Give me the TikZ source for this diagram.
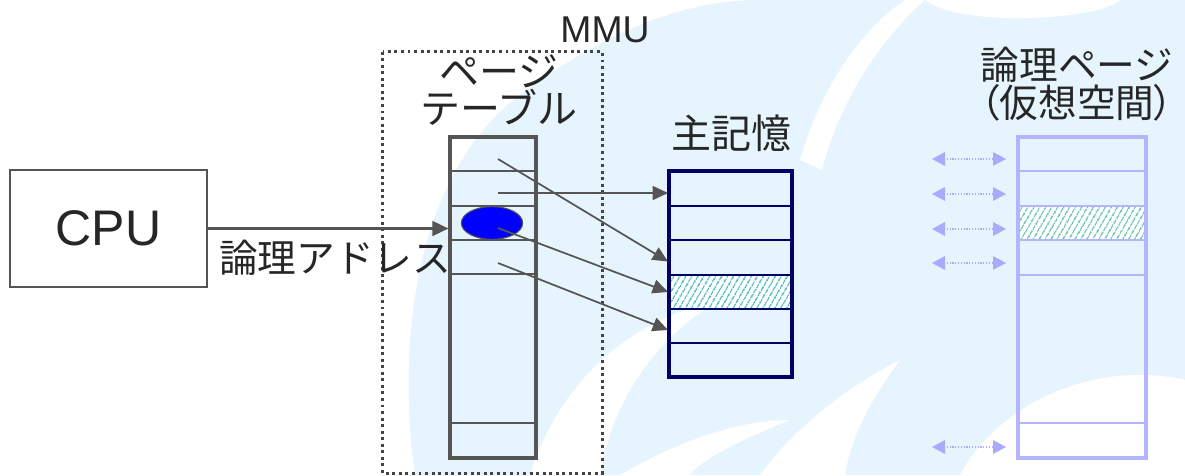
\documentclass[tikz,border=0pt]{standalone}
\usepackage{fontspec}
\setmainfont{Liberation Sans}
\newfontfamily\jp{Noto Sans CJK JP}
\newfontfamily\jpp[RawFeature=+palt]{Noto Sans CJK JP}
\usetikzlibrary{arrows.meta,fit,shapes.geometric,patterns.meta}
\definecolor{txt}{HTML}{262626}
\definecolor{gr}{HTML}{555555}
\definecolor{dotc}{HTML}{444444}
\definecolor{navyb}{HTML}{000066}
\definecolor{lav}{HTML}{B4B4FF}
\definecolor{lavt}{HTML}{AAAAFF}
\definecolor{bgb}{HTML}{E6F5FD}
\definecolor{hatchA}{HTML}{3DB8B8}
\definecolor{hatchB}{HTML}{5CBFA8}
\definecolor{ellblue}{HTML}{0000FF}
\begin{document}
\begin{tikzpicture}[x=0.75pt,y=-0.75pt,
  ptcell/.style={draw=gr, line width=1.6pt, inner sep=0pt},
  ptouter/.style={draw=gr, line width=2.3pt, inner sep=0pt},
  mcell/.style={draw=navyb, line width=1.5pt, inner sep=0pt},
  mouter/.style={draw=navyb, line width=2.4pt, inner sep=0pt},
  lcell/.style={draw=lav, line width=1.5pt, inner sep=0pt},
  louter/.style={draw=lav, line width=2.6pt, inner sep=0pt},
  arr/.style={draw=gr, line width=1.3pt, -{Triangle[length=11.5pt,width=10.5pt]}},
  dotline/.style={draw=lavt, line width=1.1pt, dash pattern=on 0.9pt off 1.2pt},
  jlabel/.style={font=\jp\fontsize{30}{25}\selectfont, text=txt, align=center, inner sep=0pt},
  elabel/.style={font=\fontsize{28}{30}\selectfont, text=txt, inner sep=0pt}
]
\useasboundingbox (0,0) rectangle (1185,475);
\fill[white] (0,0) rectangle (1185,475);
% background watermark (approximate)
\fill[bgb] (415,475) .. controls (395,330) and (420,170) .. (520,95)
   .. controls (600,35) and (680,0) .. (760,0) -- (1185,0) -- (1185,475) -- cycle;
\fill[white] (530,475) .. controls (560,380) and (630,320) .. (720,300)
   .. controls (650,340) and (610,410) .. (600,475) -- cycle;
\fill[white] (800,160) .. controls (820,90) and (860,30) .. (905,0)
   -- (925,0) .. controls (880,40) and (840,100) .. (822,170) -- cycle;
\fill[white] (925,0) -- (1120,0) .. controls (1100,20) and (960,28) .. (925,0) -- cycle;
\fill[white] (760,475) .. controls (800,420) and (860,380) .. (900,360)
   .. controls (870,400) and (850,440) .. (845,475) -- cycle;
\fill[white] (960,475) .. controls (1000,400) and (1100,360) .. (1185,380)
   -- (1185,475) -- cycle;
\fill[white] (620,475) .. controls (680,440) and (740,420) .. (790,420)
   .. controls (740,440) and (700,460) .. (690,475) -- cycle;

% MMU dotted box
\node[inner sep=0pt, fit={(383,52) (602,473)}] (mmu) {};
\draw[draw=dotc, line width=2.4pt, dash pattern=on 2.2pt off 2.7pt]
  (mmu.north west) rectangle (mmu.south east);
\node[elabel] (mmul) at (605,30) {MMU};

% CPU
\node[draw=gr, line width=1.9pt, inner sep=0pt, fit={(10,170) (207,287)}] (cpubox) {};
\node[font=\fontsize{37.5}{40}\selectfont, text=txt, inner sep=0pt] (cpu) at (cpubox.center) {CPU};

% page table
\node[jlabel] (ptl) at (499,90) {ページ\\テーブル};
\foreach \i/\a/\b in {1/137/171,2/171/206,3/206/240,4/240/274,5/274/423,6/423/458}
  \node[ptcell, fit={(450,\a) (536,\b)}] (p\i) {};
\node[ptouter, fit={(450,137) (536,458)}] (pt) {};

% CPU -> page table
\draw[draw=gr, line width=1.9pt, -{Triangle[length=12pt,width=11pt]}]
  (cpubox.east) -- (cpubox.east -| pt.west);
\node[font=\jp\fontsize{29}{25}\selectfont, text=txt, inner sep=0pt, anchor=west] (la) at (219,258) {論理アドレス};

% ellipse
\node[ellipse, draw=gr, line width=0.8pt, fill=ellblue, minimum width=46pt,
      minimum height=24.5pt, inner sep=0pt] (ell) at (492,223) {};

% main memory
\node[jlabel] (mml) at (731,133) {主記憶};
\fill[white] (669,275) rectangle (792,309);
\fill[pattern={Lines[angle=60,distance=4pt,line width=1.1pt]}, pattern color=hatchA]
  (669,275) rectangle (792,309);
\foreach \i/\a/\b in {1/171/206,2/206/240,3/240/275,4/275/309,5/309/343,6/343/377}
  \node[mcell, fit={(669,\a) (792,\b)}] (m\i) {};
\node[mouter, fit={(669,171) (792,377)}] (mem) {};

% mapping arrows
\coordinate (s1) at (498,159);
\coordinate (s2) at (498,193);
\coordinate (s3) at (498,228);
\coordinate (s4) at (498,263);
\draw[arr] (s1) -- ([yshift=-3pt]m3.west);
\draw[arr] (s2) -- (s2 -| m1.west);
\draw[arr] (s3) -- (m4.west);
\draw[arr] (s4) -- ([yshift=-3pt]m5.west);

% logical pages
\node[font=\jp\fontsize{29}{26}\selectfont, text=txt, align=center, inner sep=0pt]
  (lpl) at (1077,84) {論理ページ\\{\jpp （仮想空間）}};
\fill[white] (1018,206) rectangle (1146,240);
\fill[pattern={Lines[angle=60,distance=4pt,line width=1.1pt]}, pattern color=hatchB]
  (1018,206) rectangle (1146,240);
\foreach \i/\a/\b in {1/137/171,2/171/206,3/206/240,4/240/275,5/275/423,6/423/458}
  \node[lcell, fit={(1018,\a) (1146,\b)}] (l\i) {};
\node[louter, fit={(1018,137) (1146,458)}] (lp) {};

% double arrows
\foreach \i/\y in {1/159,2/194,3/229,4/263,5/447}{
  \coordinate (dl\i) at (932,\y);
  \coordinate (dr\i) at (1006,\y);
  \draw[dotline] ([xshift=9pt]dl\i) -- ([xshift=-9pt]dr\i);
  \fill[lavt] (dr\i) -- ++(-13,-7) -- ++(0,14) -- cycle;
  \fill[lavt] (dl\i) -- ++(13,-7) -- ++(0,14) -- cycle;
}
\end{tikzpicture}
\end{document}
